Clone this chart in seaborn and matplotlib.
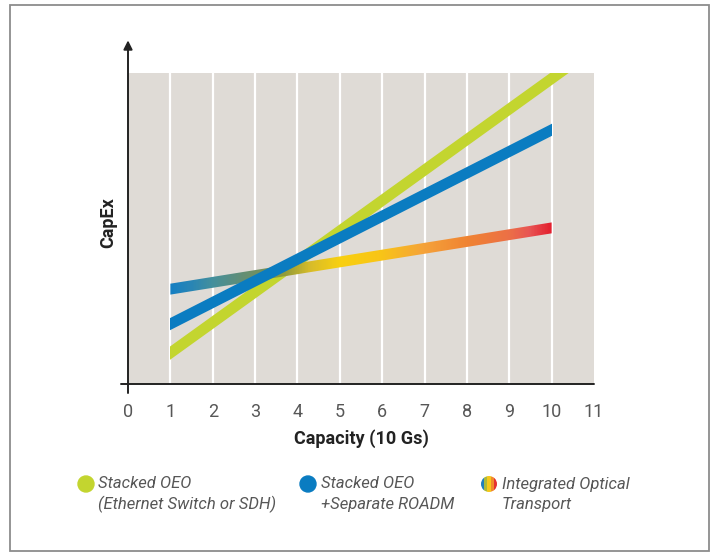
import numpy as np
import pandas as pd
import matplotlib
matplotlib.use("Agg")
import matplotlib.pyplot as plt
import seaborn as sns
from matplotlib.patches import Rectangle, Polygon, Circle
from matplotlib.colors import LinearSegmentedColormap

# ---------------- data ----------------
x_ticks = list(range(0, 12))
grid_x = list(range(1, 11))

oeo_x = [1, 11]                # Stacked OEO (Ethernet Switch or SDH)
oeo_y = [10.0, 108.0]
roadm_x = [1, 10]              # Stacked OEO + Separate ROADM
roadm_y = [19.3, 81.7]
iot_x = [1, 10]                # Integrated Optical Transport
iot_y = [30.5, 50.2]

x_label = "Capacity (10 Gs)"
y_label = "CapEx"
legend_lines = [["Stacked OEO", "(Ethernet Switch or SDH)"],
                ["Stacked OEO", "+Separate ROADM"],
                ["Integrated Optical", "Transport"]]

# ---------------- style ----------------
GREEN = "#c3d52f"
BLUE = "#0a7cc1"
BG = "#dfdbd6"
TXT = "#575757"
grad_pos = [1.0, 1.5, 2.0, 2.6, 3.2, 3.7, 4.3, 5.0, 6.0, 7.0, 8.0, 9.0, 9.5, 10.0]
grad_col = ["#157fc3", "#2a86b4", "#45909c", "#5f8e7a", "#76915a", "#939c38", "#d8bc2a",
            "#f8d010", "#f8c418", "#f5a23a", "#f08432", "#ec7046", "#e85454", "#e3202f"]

sns.set_theme(style="white")
plt.rcParams["font.family"] = ["Roboto", "DejaVu Sans"]

W, H = 712, 554
fig = plt.figure(figsize=(W / 100, H / 100), dpi=100)
ax = fig.add_axes([128 / W, (H - 384) / H, 466 / W, 311 / H])
ax.set_facecolor(BG)
ax.set_xlim(0, 11)
ax.set_ylim(0, 100)
for s in ax.spines.values():
    s.set_visible(False)

# white vertical grid lines
for gx in grid_x:
    ax.axvline(gx, color="white", lw=1.6, zorder=1)

LW_PX = 10.8
LW_PT = LW_PX * 72 / 100

# green line
sns.lineplot(x=oeo_x, y=oeo_y, color=GREEN, linewidth=LW_PT, ax=ax,
             solid_capstyle="projecting", zorder=2)
ln = ax.lines[-1]
ln.set_clip_path(Rectangle((oeo_x[0], 0), 11 - oeo_x[0], 100, transform=ax.transData))

# gradient line (image clipped to the band)
fig.canvas.draw()
p0 = ax.transData.transform((iot_x[0], iot_y[0]))
p1 = ax.transData.transform((iot_x[1], iot_y[1]))
slope = (p1[1] - p0[1]) / (p1[0] - p0[0])
px_per_y = (ax.transData.transform((0, 1))[1] - ax.transData.transform((0, 0))[1])
h = LW_PX / 2 * np.sqrt(1 + slope ** 2) / px_per_y
poly = Polygon([(iot_x[0], iot_y[0] - h), (iot_x[1], iot_y[1] - h),
                (iot_x[1], iot_y[1] + h), (iot_x[0], iot_y[0] + h)],
               closed=True, facecolor="none", edgecolor="none", transform=ax.transData)
ax.add_patch(poly)
cmap = LinearSegmentedColormap.from_list(
    "iot", [((p - grad_pos[0]) / (grad_pos[-1] - grad_pos[0]), c) for p, c in zip(grad_pos, grad_col)])
grad = np.linspace(0, 1, 400)[None, :]
im = ax.imshow(grad, cmap=cmap, aspect="auto", interpolation="bilinear",
               extent=[iot_x[0], iot_x[1], min(iot_y) - 5, max(iot_y) + 5],
               origin="lower", zorder=3)
im.set_clip_path(poly)
ax.set_xlim(0, 11)
ax.set_ylim(0, 100)

# blue line
sns.lineplot(x=roadm_x, y=roadm_y, color=BLUE, linewidth=LW_PT, ax=ax,
             solid_capstyle="projecting", zorder=4)
ln = ax.lines[-1]
ln.set_clip_path(Rectangle((roadm_x[0], 0), roadm_x[1] - roadm_x[0], 100, transform=ax.transData))

# axes lines
ax.plot([-0.17, 11], [0, 0], color="#222222", lw=1.4, clip_on=False, zorder=6)
ax.annotate("", xy=(0, 110.5), xytext=(0, -2.9), xycoords="data",
            arrowprops=dict(arrowstyle="-|>", color="#222222", lw=1.4,
                            mutation_scale=13, shrinkA=0, shrinkB=0),
            annotation_clip=False, zorder=6)

# ticks
ax.set_xticks(x_ticks)
ax.set_xticklabels([str(t) for t in x_ticks], fontsize=13, color=TXT, fontweight="normal")
ax.set_yticks([])
ax.tick_params(axis="x", length=0, pad=14)

ax.set_xlabel(x_label, fontsize=13, fontweight="bold", color="#222222")
ax.xaxis.set_label_coords(0.5, -0.177)
ax.xaxis.label.set_va("center")
ax.set_ylabel(y_label, fontsize=13, fontweight="bold", color="#222222")
ax.yaxis.set_label_coords(-0.043, 0.52)
ax.yaxis.label.set_va("center")

# overlay for border and legend
ov = fig.add_axes([0, 0, 1, 1], zorder=5)
ov.set_xlim(0, W)
ov.set_ylim(H, 0)
ov.axis("off")
ov.patch.set_alpha(0)
ov.add_patch(Rectangle((10, 5), 699, 546, fill=False, edgecolor="#8c8c8c", lw=1.3))

circ_x = [86, 308, 489]
text_x = [98, 321, 502]
cy = 484
ov.add_patch(Circle((circ_x[0], cy), 8, color=GREEN))
ov.add_patch(Circle((circ_x[1], cy), 8, color=BLUE))
rc = Circle((circ_x[2], cy), 8, facecolor="none", edgecolor="none")
ov.add_patch(rc)
stripes = np.array([[0, 1, 2, 3, 4]])
rcmap = LinearSegmentedColormap.from_list("rb", ["#1f7fc0", "#a9b93c", "#f5c81a", "#f08a2c", "#e53131"], N=5)
rim = ov.imshow(stripes, cmap=rcmap, extent=[circ_x[2] - 8, circ_x[2] + 8, cy + 8, cy - 8],
                interpolation="nearest", aspect="auto")
rim.set_clip_path(rc)
ov.set_xlim(0, W)
ov.set_ylim(H, 0)

for tx, lines in zip(text_x, legend_lines):
    for i, t in enumerate(lines):
        ov.text(tx, cy + i * 20, t, fontsize=12, fontstyle="italic", fontweight="normal",
                color=TXT, va="center", ha="left")

fig.savefig("out.png", dpi=100)
